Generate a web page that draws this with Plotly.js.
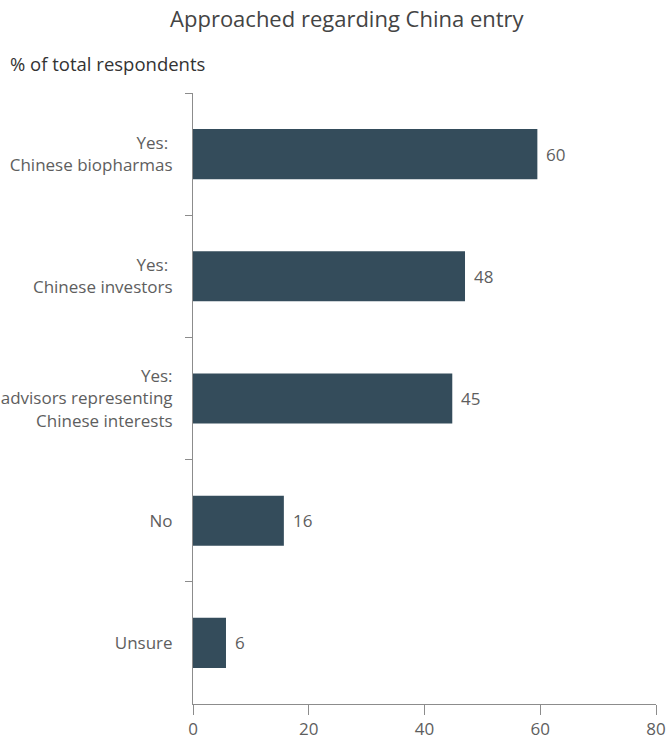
<!DOCTYPE html>
<html>
<head>
<meta charset="utf-8">
<script src="https://cdn.plot.ly/plotly-3.0.1.min.js"></script>
<style>html,body{margin:0;padding:0;background:#fff;}#chart{width:667px;height:747px;}</style>
</head>
<body>
<div id="chart"></div>
<script>
const categories = [
  "Yes:\u00A0<br>Chinese biopharmas",
  "Yes:\u00A0<br>Chinese investors",
  "Yes:<br>advisors representing<br>Chinese interests",
  "No",
  "Unsure"
];
const values = [59.5, 47.0, 44.8, 15.7, 5.7];
const valueLabels = ["60", "48", "45", "16", "6"];
const xTicks = [0, 20, 40, 60, 80];

const textColor = "#5e5e5e";
const axisColor = "#8c8c8c";
const fontFamily = "'Open Sans', 'Noto Sans', sans-serif";

const trace = {
  type: "bar",
  orientation: "h",
  x: values,
  y: categories,
  marker: {color: "#344c5b"},
  hoverinfo: "none"
};

const annotations = values.map((v, i) => ({
  x: v, y: categories[i], xref: "x", yref: "y",
  text: valueLabels[i], showarrow: false,
  xanchor: "left", xshift: 7,
  font: {family: fontFamily, size: 17, color: textColor}
}));
annotations.push({
  text: "% of total respondents", xref: "paper", yref: "paper",
  x: -185/463, y: 1 + 30/611, xanchor: "left", yanchor: "middle",
  showarrow: false,
  font: {family: fontFamily, size: 18.5, color: "#333", weight: 500}
});

const layout = {
  width: 667, height: 747,
  margin: {l: 193, r: 11, t: 93, b: 43},
  paper_bgcolor: "#fff", plot_bgcolor: "#fff",
  showlegend: false,
  bargap: 0.59,
  title: {
    text: "Approached regarding China entry",
    x: 0.52, xanchor: "center", y: 0.974, yanchor: "middle",
    font: {family: fontFamily, size: 22, color: "#444"}
  },
  font: {family: fontFamily, color: textColor, size: 17},
  xaxis: {
    range: [0, 80], tickvals: xTicks, ticktext: xTicks.map(String),
    showgrid: false, zeroline: false, showline: true, linecolor: axisColor, linewidth: 1,
    ticks: "outside", ticklen: 10, tickcolor: axisColor, tickwidth: 1,
    tickfont: {family: fontFamily, size: 17, color: textColor},
    fixedrange: true
  },
  yaxis: {
    autorange: "reversed", type: "category",
    showgrid: false, zeroline: false, showline: true, linecolor: axisColor, linewidth: 1,
    ticks: "outside", tickson: "boundaries", ticklen: 7, tickcolor: axisColor, tickwidth: 1,
    tickfont: {family: fontFamily, size: 17, color: textColor},
    ticklabelstandoff: 16,
    fixedrange: true
  },
  annotations: annotations
};

Plotly.newPlot("chart", [trace], layout, {displayModeBar: false, staticPlot: true});
</script>
</body>
</html>
